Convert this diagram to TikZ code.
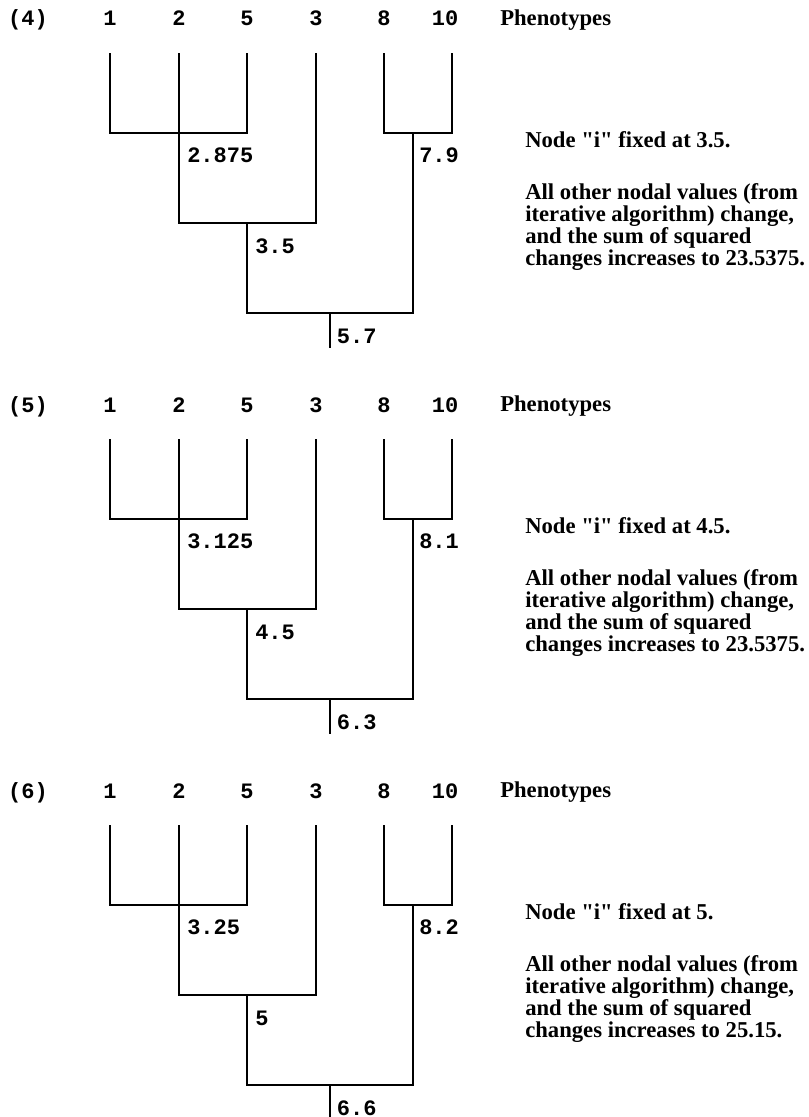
\documentclass[tikz,border=0pt]{standalone}
\usepackage{fontspec}
\setmainfont{Liberation Serif}
\newfontfamily\labelfont{Liberation Mono}
\usepackage{tikz}
\usetikzlibrary{positioning}
\tikzstyle{branch} = [
line width=1.9pt,
draw=black
]
\tikzstyle{leafname} = [
font=\labelfont\bfseries\fontsize{16.5}{18}\selectfont,
inner sep=0pt,
anchor=base
]
\tikzstyle{nodeval} = [
leafname,
anchor=west
]
\tikzstyle{caption} = [
font=\bfseries\fontsize{17}{15.4}\selectfont,
inner sep=0pt,
anchor=west
]
\tikzstyle{remark} = [
caption,
align=left,
anchor=north west
]
\begin{document}
\begin{tikzpicture}[x=0.75pt, y=-0.75pt]

	\useasboundingbox (0,0) rectangle (809,1117);

	% panel (4)
	\begin{scope}[name prefix=p4-]
		\node[leafname] (tag) at (28,26) {(4)};
		\node[leafname] (t1) at (110,26) {1};
		\node[leafname] (t2) at (179,26) {2};
		\node[leafname] (t5) at (247,26) {5};
		\node[leafname] (t3) at (316,26) {3};
		\node[leafname] (t8) at (384,26) {8};
		\node[leafname] (t10) at (445,26) {10};
		\node[caption] (pheno) at (500,20) {Phenotypes};

		\coordinate (l1) at (110,53);
		\coordinate (l2) at (179,53);
		\coordinate (l5) at (247,53);
		\coordinate (l3) at (316,53);
		\coordinate (l8) at (384,53);
		\coordinate (l10) at (452,53);
		\coordinate (a) at (179,133);
		\coordinate (b) at (247,223);
		\coordinate (c) at (413,133);
		\coordinate (r) at (330,313);
		\coordinate (s) at (330,348);

		\draw [branch] (l1) |- (a) -| (l5);
		\draw [branch] (l2) -- (a) |- (b) -| (l3);
		\draw [branch] (l8) |- (c) -| (l10);
		\draw [branch] (b) |- (r) -| (c);
		\draw [branch] (r) -- (s);

		\node[nodeval, below right=11pt and 6pt of a] (va) {2.875};
		\node[nodeval, below right=11pt and 4.5pt of c] (vc) {7.9};
		\node[nodeval, below right=12pt and 6pt of b] (vb) {3.5};
		\node[nodeval, below right=12pt and 5pt of r] (vr) {5.7};

		\node[caption] (fix) at (525,140) {Node \textquotedbl i\textquotedbl{} fixed at 3.5.};
		\node[remark, below=26pt of fix.south west, anchor=north west] (note) {All other nodal values (from\\iterative algorithm) change,\\and the sum of squared\\changes increases to 23.5375.};
	\end{scope}

	% panel (5)
	\begin{scope}[shift={(0,386)}, name prefix=p5-]
		\node[leafname] (tag) at (28,26) {(5)};
		\node[leafname] (t1) at (110,26) {1};
		\node[leafname] (t2) at (179,26) {2};
		\node[leafname] (t5) at (247,26) {5};
		\node[leafname] (t3) at (316,26) {3};
		\node[leafname] (t8) at (384,26) {8};
		\node[leafname] (t10) at (445,26) {10};
		\node[caption] (pheno) at (500,20) {Phenotypes};

		\coordinate (l1) at (110,53);
		\coordinate (l2) at (179,53);
		\coordinate (l5) at (247,53);
		\coordinate (l3) at (316,53);
		\coordinate (l8) at (384,53);
		\coordinate (l10) at (452,53);
		\coordinate (a) at (179,133);
		\coordinate (b) at (247,223);
		\coordinate (c) at (413,133);
		\coordinate (r) at (330,313);
		\coordinate (s) at (330,348);

		\draw [branch] (l1) |- (a) -| (l5);
		\draw [branch] (l2) -- (a) |- (b) -| (l3);
		\draw [branch] (l8) |- (c) -| (l10);
		\draw [branch] (b) |- (r) -| (c);
		\draw [branch] (r) -- (s);

		\node[nodeval, below right=11pt and 6pt of a] (va) {3.125};
		\node[nodeval, below right=11pt and 4.5pt of c] (vc) {8.1};
		\node[nodeval, below right=12pt and 6pt of b] (vb) {4.5};
		\node[nodeval, below right=12pt and 5pt of r] (vr) {6.3};

		\node[caption] (fix) at (525,140) {Node \textquotedbl i\textquotedbl{} fixed at 4.5.};
		\node[remark, below=26pt of fix.south west, anchor=north west] (note) {All other nodal values (from\\iterative algorithm) change,\\and the sum of squared\\changes increases to 23.5375.};
	\end{scope}

	% panel (6)
	\begin{scope}[shift={(0,772)}, name prefix=p6-]
		\node[leafname] (tag) at (28,26) {(6)};
		\node[leafname] (t1) at (110,26) {1};
		\node[leafname] (t2) at (179,26) {2};
		\node[leafname] (t5) at (247,26) {5};
		\node[leafname] (t3) at (316,26) {3};
		\node[leafname] (t8) at (384,26) {8};
		\node[leafname] (t10) at (445,26) {10};
		\node[caption] (pheno) at (500,20) {Phenotypes};

		\coordinate (l1) at (110,53);
		\coordinate (l2) at (179,53);
		\coordinate (l5) at (247,53);
		\coordinate (l3) at (316,53);
		\coordinate (l8) at (384,53);
		\coordinate (l10) at (452,53);
		\coordinate (a) at (179,133);
		\coordinate (b) at (247,223);
		\coordinate (c) at (413,133);
		\coordinate (r) at (330,313);
		\coordinate (s) at (330,348);

		\draw [branch] (l1) |- (a) -| (l5);
		\draw [branch] (l2) -- (a) |- (b) -| (l3);
		\draw [branch] (l8) |- (c) -| (l10);
		\draw [branch] (b) |- (r) -| (c);
		\draw [branch] (r) -- (s);

		\node[nodeval, below right=11pt and 6pt of a] (va) {3.25};
		\node[nodeval, below right=11pt and 4.5pt of c] (vc) {8.2};
		\node[nodeval, below right=12pt and 6pt of b] (vb) {5};
		\node[nodeval, below right=12pt and 5pt of r] (vr) {6.6};

		\node[caption] (fix) at (525,140) {Node \textquotedbl i\textquotedbl{} fixed at 5.};
		\node[remark, below=26pt of fix.south west, anchor=north west] (note) {All other nodal values (from\\iterative algorithm) change,\\and the sum of squared\\changes increases to 25.15.};
	\end{scope}

\end{tikzpicture}
\end{document}
